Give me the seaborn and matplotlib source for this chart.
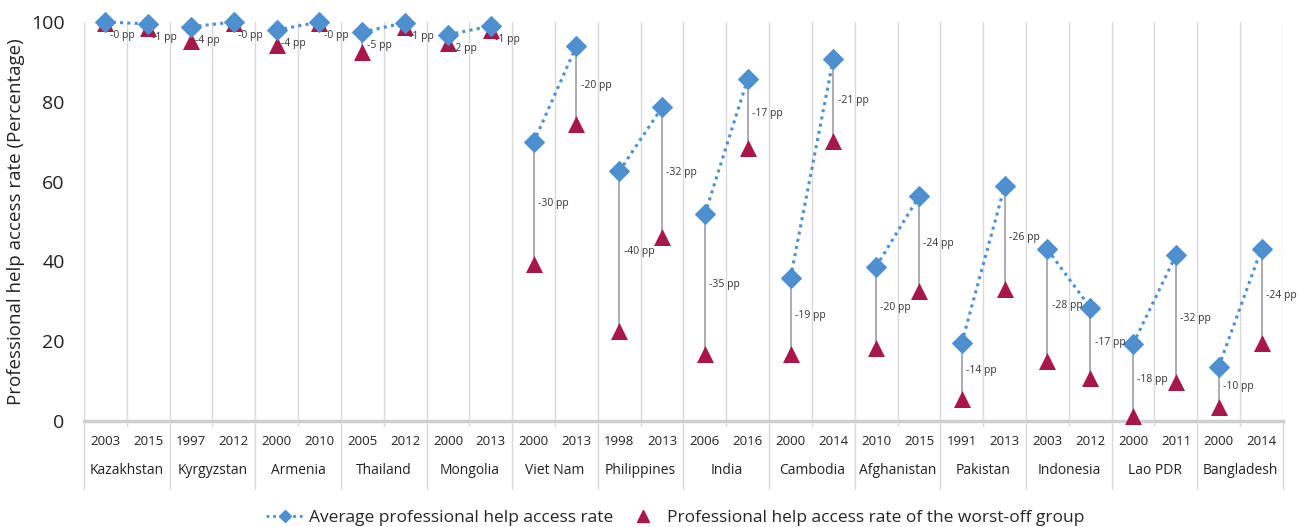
import numpy as np
import pandas as pd
import matplotlib
matplotlib.use('Agg')
import matplotlib.pyplot as plt
import seaborn as sns
from matplotlib.lines import Line2D

countries = ['Kazakhstan', 'Kyrgyzstan', 'Armenia', 'Thailand', 'Mongolia', 'Viet Nam',
             'Philippines', 'India', 'Cambodia', 'Afghanistan', 'Pakistan', 'Indonesia',
             'Lao PDR', 'Bangladesh']
years = ['2003', '2015', '1997', '2012', '2000', '2010', '2005', '2012', '2000', '2013',
         '2000', '2013', '1998', '2013', '2006', '2016', '2000', '2014', '2010', '2015',
         '1991', '2013', '2003', '2012', '2000', '2011', '2000', '2014']
avg_rate = [100.0, 99.5, 98.8, 100.0, 98.0, 100.0, 97.5, 99.8, 96.8, 99.0,
            69.8, 94.0, 62.6, 78.6, 51.8, 85.7, 35.9, 90.7, 38.7, 56.3,
            19.6, 58.8, 43.0, 28.4, 19.3, 41.5, 13.6, 43.2]
worst_rate = [99.7, 98.6, 95.2, 99.8, 94.3, 99.8, 92.5, 98.8, 94.8, 98.0,
              39.4, 74.4, 22.6, 46.2, 16.8, 68.5, 16.8, 70.1, 18.3, 32.5,
              5.5, 33.2, 15.0, 10.9, 1.3, 9.8, 3.6, 19.5]
gap_labels = ['-0 pp', '-1 pp', '-4 pp', '-0 pp', '-4 pp', '-0 pp', '-5 pp', '-1 pp', '-2 pp', '-1 pp',
              '-30 pp', '-20 pp', '-40 pp', '-32 pp', '-35 pp', '-17 pp', '-19 pp', '-21 pp', '-20 pp', '-24 pp',
              '-14 pp', '-26 pp', '-28 pp', '-17 pp', '-18 pp', '-32 pp', '-10 pp', '-24 pp']

blue = '#4e8fd0'
red = '#a8174a'
grey = '#a3a7ae'

df = pd.DataFrame({
    'pos': np.arange(len(years)),
    'country': np.repeat(countries, 2),
    'year': years,
    'avg': avg_rate,
    'worst': worst_rate,
    'gap': gap_labels,
})

sns.set_style('white')
plt.rcParams['font.family'] = ['Open Sans', 'DejaVu Sans']

fig = plt.figure(figsize=(12.98, 5.27), dpi=100)
ax = fig.add_axes([0.0647, 0.2011, 0.9237, 0.7572])

# vertical grid at every slot boundary
for b in np.arange(-0.5, len(years), 1.0):
    ax.axvline(b, color='#d9d9d9', lw=1, zorder=0)

# gap connectors
ax.vlines(df['pos'], df['worst'], df['avg'], color=grey, lw=1.3, zorder=2)

# average rate, dotted line within each country
sns.lineplot(data=df, x='pos', y='avg', units='country', estimator=None, ax=ax,
             color=blue, linestyle=(0, (1, 1.4)), lw=2.2, marker='D', markersize=10,
             markeredgecolor=blue, zorder=4, legend=False, clip_on=False)
sns.scatterplot(data=df, x='pos', y='worst', ax=ax, color=red, marker='^', s=150,
                edgecolor=red, linewidth=0, zorder=3, legend=False, clip_on=False)

for _, r in df.iterrows():
    ymid = min((r['avg'] + r['worst']) / 2, r['avg'] - 3.5)
    ax.text(r['pos'] + 0.1, ymid, r['gap'], fontsize=7.5, color='#333333',
            va='center', ha='left', zorder=5)

ax.set_xlim(-0.5, len(years) - 0.5)
ax.set_ylim(0, 100)
ax.set_yticks([0, 20, 40, 60, 80, 100])
ax.tick_params(axis='y', labelsize=14, length=0, pad=14, labelcolor='#222222')
ax.set_xticks(df['pos'])
ax.set_xticklabels(df['year'], fontsize=9.5, color='#222222')
ax.tick_params(axis='x', length=0, pad=10)
ax.set_xlabel('')
ax.set_ylabel('Professional help access rate (Percentage)', fontsize=13.5, color='#222222', labelpad=4)

for s in ['top', 'right', 'left']:
    ax.spines[s].set_visible(False)
ax.spines['bottom'].set_color('#d0d0d0')
ax.spines['bottom'].set_linewidth(2.5)

# country group labels and separators
trans = ax.get_xaxis_transform()
for i, c in enumerate(countries):
    ax.text(2 * i + 0.5, -0.125, c, transform=trans, ha='center', va='center',
            fontsize=10, color='#222222')
for b in np.arange(-0.5, len(years), 2.0):
    ax.plot([b, b], [0, -0.17], transform=trans, color='#d9d9d9', lw=1, clip_on=False)
for b in np.arange(0.5, len(years), 2.0):
    ax.plot([b, b], [0, -0.012], transform=trans, color='#d9d9d9', lw=1, clip_on=False)

handles = [
    Line2D([], [], color=blue, linestyle=(0, (1, 1.4)), lw=2, marker='D', markersize=6),
    Line2D([], [], color=red, linestyle='none', marker='^', markersize=9),
]
fig.legend(handles, ['Average professional help access rate',
                     'Professional help access rate of the worst-off group'],
           loc='center', bbox_to_anchor=(0.52, 0.018), ncol=2, frameon=False,
           fontsize=12.5, handlelength=2.2, handletextpad=0.3, columnspacing=0.6)

fig.savefig('out.png', dpi=100)
